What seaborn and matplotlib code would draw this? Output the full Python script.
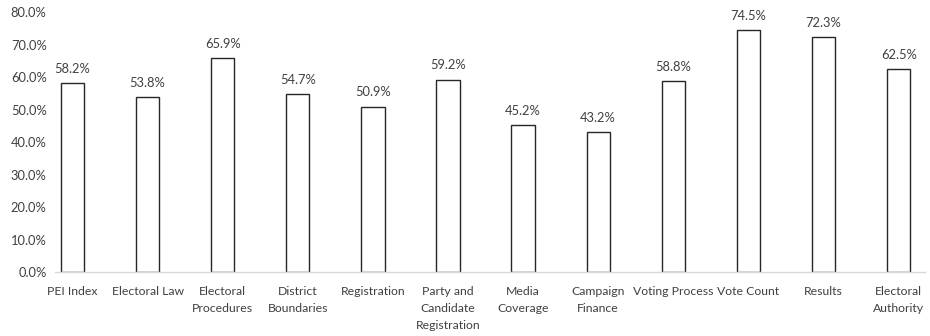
import matplotlib
matplotlib.use("Agg")
import matplotlib.pyplot as plt
import seaborn as sns
import pandas as pd

categories = [
    "PEI Index", "Electoral Law", "Electoral\nProcedures", "District\nBoundaries",
    "Registration", "Party and\nCandidate\nRegistration", "Media\nCoverage",
    "Campaign\nFinance", "Voting Process", "Vote Count", "Results",
    "Electoral\nAuthority",
]
values = [58.2, 53.8, 65.9, 54.7, 50.9, 59.2, 45.2, 43.2, 58.8, 74.5, 72.3, 62.5]
y_ticks = [0, 10, 20, 30, 40, 50, 60, 70, 80]

sns.set_theme(style="white")
plt.rcParams["font.family"] = ["Lato", "DejaVu Sans"]

df = pd.DataFrame({"category": categories, "value": values})

fig = plt.figure(figsize=(9.3, 3.36), dpi=100)
ax = fig.add_axes([0.0591, 0.189, 0.9355, 0.775])

sns.barplot(data=df, x="category", y="value", ax=ax, color="white",
            edgecolor="#262626", linewidth=1.0, width=0.31, saturation=1)

for i, v in enumerate(values):
    ax.annotate(f"{v:.1f}%", (i, v), xytext=(0, 6), textcoords="offset points",
                ha="center", va="bottom", fontsize=9.3, color="#404040")

ax.set_ylim(0, 80)
ax.set_xlim(-0.233, 11.35)
ax.set_yticks(y_ticks)
ax.set_yticklabels([f"{t:.1f}%" for t in y_ticks])
ax.set_xlabel("")
ax.set_ylabel("")
ax.tick_params(axis="both", length=0, colors="#404040")
ax.tick_params(axis="y", pad=6, labelsize=9.3)
ax.tick_params(axis="x", pad=10, labelsize=8.8)
for lbl in ax.get_xticklabels():
    lbl.set_horizontalalignment("center")
    lbl.set_linespacing(1.65)

for side in ["top", "right", "left"]:
    ax.spines[side].set_visible(False)
ax.spines["bottom"].set_color("#d9d9d9")
ax.spines["bottom"].set_linewidth(1.0)
ax.set_zorder(1)

fig.savefig("out.png", dpi=100, facecolor="white")
